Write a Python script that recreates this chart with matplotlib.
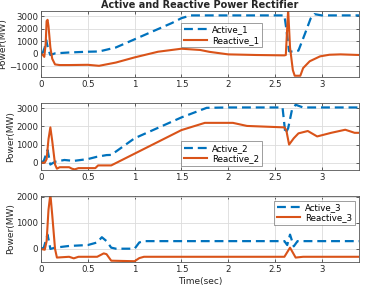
import matplotlib
matplotlib.use("Agg")
import matplotlib.pyplot as plt

# ---- data ----
t_a1 = [0, 0.02, 0.04, 0.055, 0.07, 0.085, 0.10, 0.15, 0.3, 0.5, 0.62, 0.8, 1.0, 1.2, 1.4, 1.5, 1.6, 2.0, 2.3, 2.6, 2.62, 2.65, 2.70, 2.75, 2.82, 2.88, 2.92, 3.0, 3.4]
v_a1 = [0, 100, 500, 1100, 600, 200, -100, 30, 100, 160, 180, 500, 1150, 1800, 2450, 2830, 3050, 3050, 3050, 3050, 2000, 200, 150, 250, 1600, 2800, 3150, 3050, 3050]
t_r1 = [0, 0.02, 0.035, 0.05, 0.06, 0.07, 0.08, 0.10, 0.12, 0.15, 0.2, 0.3, 0.5, 0.62, 0.8, 1.0, 1.25, 1.5, 1.7, 1.8, 2.0, 2.3, 2.6, 2.615, 2.64, 2.66, 2.69, 2.71, 2.77, 2.80, 2.87, 2.98, 3.08, 3.2, 3.4]
v_r1 = [0, -100, -250, 800, 2600, 2700, 2200, 500, -400, -850, -900, -900, -880, -960, -700, -290, 160, 400, 300, 150, -50, -100, -130, -100, 3500, 500, -1300, -1750, -1750, -1140, -600, -210, -80, -50, -100]

t_a2 = [0, 0.03, 0.05, 0.07, 0.085, 0.10, 0.15, 0.25, 0.35, 0.5, 0.6, 0.7, 0.75, 1.0, 1.5, 1.77, 2.0, 2.58, 2.61, 2.64, 2.68, 2.72, 2.8, 3.0, 3.4]
v_a2 = [0, 100, 400, 700, 300, -100, 50, 150, 100, 200, 330, 420, 430, 1350, 2500, 3030, 3050, 3050, 1600, 1900, 2900, 3200, 3050, 3050, 3050]
t_r2 = [0, 0.04, 0.06, 0.08, 0.10, 0.12, 0.15, 0.17, 0.2, 0.3, 0.33, 0.36, 0.4, 0.58, 0.61, 0.72, 0.75, 1.0, 1.5, 1.75, 2.05, 2.2, 2.6, 2.62, 2.65, 2.7, 2.75, 2.85, 2.95, 3.1, 3.25, 3.35, 3.4]
v_r2 = [0, 0, 200, 1300, 1950, 1200, -100, -330, -250, -250, -330, -370, -300, -300, -150, -150, -150, 500, 1800, 2200, 2200, 2030, 1950, 1800, 1000, 1350, 1620, 1750, 1450, 1650, 1820, 1650, 1650]

t_a3 = [0, 0.03, 0.05, 0.07, 0.09, 0.10, 0.15, 0.3, 0.5, 0.6, 0.65, 0.7, 0.75, 0.8, 1.0, 1.05, 1.1, 1.5, 2.6, 2.63, 2.66, 2.70, 2.74, 3.4]
v_a3 = [0, 50, 300, 550, 200, 0, 50, 115, 150, 250, 450, 300, 50, 10, 10, 250, 300, 300, 300, 150, 550, 100, 300, 300]
t_r3 = [0, 0.04, 0.06, 0.08, 0.10, 0.12, 0.15, 0.17, 0.3, 0.35, 0.4, 0.6, 0.67, 0.70, 0.75, 1.0, 1.05, 1.1, 2.6, 2.66, 2.72, 2.8, 3.4]
v_r3 = [0, -30, 300, 1500, 2100, 1300, 0, -330, -300, -360, -300, -300, -170, -200, -450, -470, -350, -300, -300, 50, -330, -300, -300]

series = [
    (t_a1, v_a1, t_r1, v_r1, "Active_1", "Reactive_1"),
    (t_a2, v_a2, t_r2, v_r2, "Active_2", "Reactive_2"),
    (t_a3, v_a3, t_r3, v_r3, "Active_3", "Reactive_3"),
]
ylims = [(-1850, 3400), (-420, 3280), (-500, 2030)]
yticks = [[-1000, 0, 1000, 2000, 3000], [0, 1000, 2000, 3000], [0, 1000, 2000]]
xticks = [0, 0.5, 1, 1.5, 2, 2.5, 3]
xticklabels = ["0", "0.5", "1", "1.5", "2", "2.5", "3"]

BLUE = "#0072BD"
ORANGE = "#D95319"
TXT = "#262626"

fig = plt.figure(figsize=(3.69, 2.91), dpi=100)
W, H = 369, 291
boxes = [(41, 11, 359.3, 77), (41, 103.3, 359.3, 170.3), (41, 196, 359.3, 262)]
leg_pos = [("upper left", (0.44, 0.82)), ("upper left", (0.44, 0.43)), ("upper left", (0.733, 0.93))]

for i, (ta, va, tr, vr, la, lr) in enumerate(series):
    x0, y0, x1, y1 = boxes[i]
    ax = fig.add_axes([x0 / W, 1 - y1 / H, (x1 - x0) / W, (y1 - y0) / H])
    ax.plot(ta, va, color=BLUE, lw=1.6, linestyle=(0, (4, 2.2)), label=la)
    ax.plot(tr, vr, color=ORANGE, lw=1.5, label=lr)
    ax.set_xlim(0, 3.4)
    ax.set_ylim(*ylims[i])
    ax.set_xticks(xticks)
    ax.set_xticklabels(xticklabels)
    ax.set_yticks(yticks[i])
    ax.grid(True, color="#dcdcdc", lw=0.6)
    ax.set_axisbelow(True)
    ax.tick_params(direction="in", length=2.5, width=0.5, labelsize=6.2, colors=TXT,
                   top=True, right=True, pad=2)
    for s in ax.spines.values():
        s.set_color("#555555")
        s.set_linewidth(0.6)
    ax.set_ylabel("Power(MW)", fontsize=6.5, color=TXT, labelpad=1)
    loc, anchor = leg_pos[i]
    leg = ax.legend(loc=loc, bbox_to_anchor=anchor, fontsize=6.2, handlelength=2.7,
                    frameon=True, fancybox=False, borderpad=0.3, labelspacing=0.15,
                    handletextpad=0.6, borderaxespad=0)
    leg.get_frame().set_edgecolor("#555555")
    leg.get_frame().set_linewidth(0.5)
    if i == 0:
        ax.set_title("Active and Reactive Power Rectifier", fontsize=7, fontweight="bold",
                     color=TXT, pad=2)
    if i == 2:
        ax.set_xlabel("Time(sec)", fontsize=6.5, color=TXT, labelpad=2)

fig.savefig("out.png", dpi=100)
